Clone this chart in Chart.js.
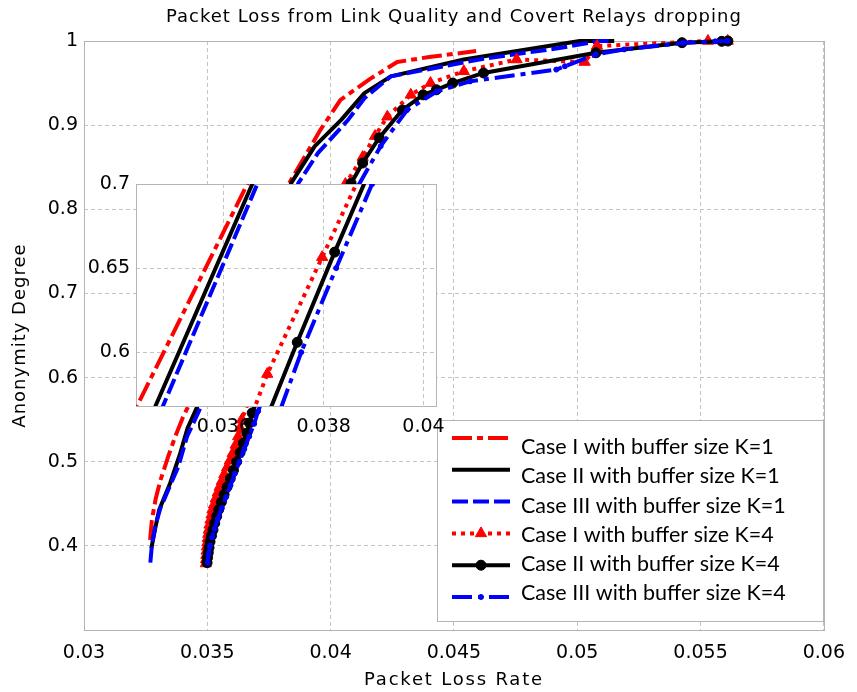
<!DOCTYPE html>
<html>
<head>
<meta charset="utf-8">
<title>Packet Loss</title>
<script src="https://cdn.jsdelivr.net/npm/chart.js@4.4.0/dist/chart.umd.min.js"></script>
<style>
  body { margin: 0; background: #fff; }
  #wrap { position: relative; width: 857px; height: 692px; }
  #inset { position: absolute; left: 80px; top: 165px; }
</style>
</head>
<body>
<div id="wrap">
  <canvas id="main" width="857" height="692"></canvas>
  <canvas id="inset" width="380" height="280"></canvas>
</div>
<script>
const titleText = 'Packet Loss from Link Quality and Covert Relays dropping';
const xTitle = 'Packet Loss Rate';
const yTitle = 'Anonymity Degree';

const xTicks = [0.03, 0.035, 0.04, 0.045, 0.05, 0.055, 0.06];
const xTickLabels = ['0.03', '0.035', '0.04', '0.045', '0.05', '0.055', '0.06'];
const yTicks = [0.3, 0.4, 0.5, 0.6, 0.7, 0.8, 0.9, 1.0];
const yTickLabels = ['', '0.4', '0.5', '0.6', '0.7', '0.8', '0.9', '1'];

const insetXTicks = [0.036, 0.038, 0.04];
const insetXTickLabels = ['0.036', '0.038', '0.04'];
const insetYTicks = [0.6, 0.65, 0.7];
const insetYTickLabels = ['0.6', '0.65', '0.7'];

const seriesLabels = [
  'Case I with buffer size K=1',
  'Case II with buffer size K=1',
  'Case III with buffer size K=1',
  'Case I with buffer size K=4',
  'Case II with buffer size K=4',
  'Case III with buffer size K=4'
];

// K=1
const case1K1X = [0.03268, 0.03275, 0.0329, 0.0331, 0.0334, 0.0337, 0.0340, 0.03426, 0.03647, 0.0374, 0.0383, 0.0396, 0.0404, 0.0416, 0.0427, 0.0440, 0.0459];
const case1K1Y = [0.407, 0.43, 0.455, 0.478, 0.505, 0.53, 0.552, 0.568, 0.70, 0.765, 0.83, 0.895, 0.93, 0.955, 0.975, 0.981, 0.988];

const case2K1X = [0.03273, 0.0329, 0.03305, 0.0335, 0.0339, 0.0342, 0.03463, 0.03657, 0.0375, 0.0384, 0.03936, 0.04042, 0.04137, 0.04244, 0.0454, 0.04915, 0.0501, 0.0515];
const case2K1Y = [0.397, 0.4225, 0.443, 0.475, 0.51, 0.54, 0.568, 0.70, 0.765, 0.831, 0.875, 0.906, 0.938, 0.958, 0.978, 0.9956, 1.0, 1.0];

const case3K1X = [0.03269, 0.03275, 0.0329, 0.0331, 0.03382, 0.03418, 0.03458, 0.03478, 0.03667, 0.0377, 0.03869, 0.03949, 0.0407, 0.04137, 0.04244, 0.0462, 0.04915, 0.0509, 0.05143];
const case3K1Y = [0.38, 0.40, 0.425, 0.445, 0.494, 0.53, 0.555, 0.568, 0.70, 0.765, 0.831, 0.867, 0.906, 0.932, 0.958, 0.979, 0.991, 1.0, 1.0];

// K=4 (markers crowd together near the bottom)
const case1K4X = [0.03494, 0.03495, 0.03496, 0.03497, 0.03498, 0.035, 0.03502, 0.03504, 0.03506, 0.03509, 0.03513, 0.03517, 0.03521, 0.03527, 0.03534, 0.03542,
  0.0355, 0.03559, 0.03569, 0.0358, 0.03591, 0.03603, 0.03615, 0.03625, 0.03633, 0.0364, 0.03687, 0.03797, 0.0390, 0.0398, 0.0406, 0.0413, 0.0418, 0.0423,
  0.04325, 0.04405, 0.0454, 0.04754, 0.0503, 0.0508, 0.0553, 0.0561];
const case1K4Y = [0.379, 0.384, 0.389, 0.394, 0.399, 0.404, 0.409, 0.414, 0.419, 0.425, 0.431, 0.437, 0.443, 0.449, 0.456, 0.463,
  0.47, 0.477, 0.485, 0.493, 0.501, 0.51, 0.52, 0.53, 0.54, 0.55, 0.587, 0.6565, 0.722, 0.778, 0.83, 0.862, 0.887, 0.91,
  0.936, 0.95, 0.964, 0.978, 0.975, 0.994, 1.0, 1.0];

const case2K4X = [0.03499, 0.03501, 0.03504, 0.03507, 0.03511, 0.03517, 0.03523, 0.0353, 0.03538, 0.03546, 0.03557, 0.03568, 0.0358, 0.03593, 0.03606,
  0.03619, 0.03633, 0.03646, 0.0366, 0.03671, 0.03682, 0.03747, 0.03822, 0.0391, 0.0400, 0.04083, 0.0413, 0.04197, 0.04291, 0.04375, 0.04429, 0.04495,
  0.0462, 0.05076, 0.05425, 0.05586, 0.05611];
const case2K4Y = [0.38, 0.386, 0.392, 0.398, 0.405, 0.412, 0.419, 0.427, 0.435, 0.443, 0.452, 0.461, 0.47, 0.48, 0.49,
  0.5, 0.511, 0.522, 0.534, 0.546, 0.558, 0.6059, 0.6595, 0.72, 0.78, 0.831, 0.855, 0.885, 0.918, 0.936, 0.942, 0.95,
  0.962, 0.986, 0.998, 0.9996, 1.0];

const case3K4X = [0.03502, 0.03505, 0.03511, 0.03519, 0.03529, 0.03543, 0.03559, 0.03576, 0.03594, 0.03612, 0.0363, 0.0365, 0.0367, 0.0369, 0.03706,
  0.03755, 0.03825, 0.03897, 0.0400, 0.0411, 0.04203, 0.0431, 0.0443, 0.04565, 0.04915, 0.0495, 0.05076, 0.0519, 0.0543, 0.0556, 0.0561];
const case3K4Y = [0.38, 0.39, 0.40, 0.41, 0.42, 0.432, 0.445, 0.458, 0.472, 0.486, 0.50, 0.515, 0.53, 0.545, 0.56,
  0.60, 0.65, 0.70, 0.76, 0.827, 0.875, 0.918, 0.94, 0.952, 0.966, 0.970, 0.984, 0.99, 0.9976, 0.9996, 1.0];

// inset window
const insetXMin = 0.03424, insetXMax = 0.04025;
const insetYMin = 0.568, insetYMax = 0.7;

const tickFont = { family: 'DejaVu Sans', size: 19 };
const gridColor = '#c4c4c4';
const frameColor = '#b4b4b4';

function pts(xs, ys) {
  return xs.map((x, i) => ({ x: x, y: ys[i] }));
}

function makeDatasets(clip) {
  const base = { showLine: true, tension: 0, fill: false, clip: clip, borderCapStyle: 'butt', borderJoinStyle: 'round' };
  return [
    Object.assign({}, base, { label: seriesLabels[0], data: pts(case1K1X, case1K1Y), borderColor: '#ff0000', borderWidth: 4, borderDash: [20, 5, 6, 5], pointRadius: 0, order: 6 }),
    Object.assign({}, base, { label: seriesLabels[1], data: pts(case2K1X, case2K1Y), borderColor: '#000000', borderWidth: 4, borderDash: [], pointRadius: 0, order: 5 }),
    Object.assign({}, base, { label: seriesLabels[2], data: pts(case3K1X, case3K1Y), borderColor: '#0000ff', borderWidth: 4, borderDash: [16, 5], pointRadius: 0, order: 4 }),
    Object.assign({}, base, { label: seriesLabels[3], data: pts(case1K4X, case1K4Y), borderColor: '#ff0000', borderWidth: 4, borderDash: [4, 5],
      pointStyle: 'triangle', pointRadius: 6.5, pointBackgroundColor: '#ff0000', pointBorderColor: '#ff0000', pointBorderWidth: 1, order: 3 }),
    Object.assign({}, base, { label: seriesLabels[4], data: pts(case2K4X, case2K4Y), borderColor: '#000000', borderWidth: 4, borderDash: [],
      pointStyle: 'circle', pointRadius: 5, pointBackgroundColor: '#000000', pointBorderColor: '#000000', pointBorderWidth: 1, order: 2 }),
    Object.assign({}, base, { label: seriesLabels[5], data: pts(case3K4X, case3K4Y), borderColor: '#0000ff', borderWidth: 4, borderDash: [20, 6, 5, 6],
      pointStyle: 'circle', pointRadius: 2.5, pointBackgroundColor: '#0000ff', pointBorderColor: '#0000ff', pointBorderWidth: 1, order: 1 })
  ];
}

function axis(min, max, values, labels, fit, padding) {
  return {
    type: 'linear', min: min, max: max,
    afterBuildTicks: s => { s.ticks = values.map(v => ({ value: v })); },
    afterFit: fit,
    ticks: { callback: (v, i) => labels[i], autoSkip: false, maxRotation: 0, padding: padding, color: '#000', font: tickFont },
    grid: { color: gridColor, drawTicks: false, lineWidth: 1 },
    border: { display: false, dash: [4, 3] }
  };
}

function drawMarker(ctx, style, r, x, y) {
  ctx.beginPath();
  if (style === 'triangle') {
    let a = 0;
    for (let k = 0; k < 3; k++) {
      const px = x + Math.sin(a) * r, py = y - Math.cos(a) * r;
      if (k === 0) ctx.moveTo(px, py); else ctx.lineTo(px, py);
      a += Math.PI * 2 / 3;
    }
    ctx.closePath();
  } else {
    ctx.arc(x, y, r, 0, Math.PI * 2);
  }
  ctx.fill();
  ctx.stroke();
}

const framePlugin = {
  id: 'frame',
  beforeDraw(chart) {
    const { ctx, chartArea: a } = chart;
    ctx.save();
    ctx.fillStyle = '#fff';
    ctx.fillRect(a.left, a.top, a.right - a.left, a.bottom - a.top);
    ctx.restore();
  },
  beforeDatasetsDraw(chart) {
    const { ctx, chartArea: a } = chart;
    ctx.save();
    ctx.strokeStyle = frameColor;
    ctx.lineWidth = 1;
    ctx.strokeRect(Math.round(a.left) + 0.5, Math.round(a.top) + 0.5, Math.round(a.right - a.left), Math.round(a.bottom - a.top));
    ctx.restore();
  }
};

const textPlugin = {
  id: 'texts',
  afterDraw(chart) {
    const { ctx, chartArea: a } = chart;
    const cx = (a.left + a.right) / 2;
    ctx.save();
    ctx.fillStyle = '#000';
    ctx.font = '18px "DejaVu Sans"';
    ctx.textAlign = 'center';
    ctx.textBaseline = 'alphabetic';
    ctx.letterSpacing = '1px';
    ctx.fillText(titleText, cx, 22);
    ctx.letterSpacing = '1.8px';
    ctx.fillText(xTitle, cx, 685);
    ctx.letterSpacing = '1px';
    ctx.translate(25, (a.top + a.bottom) / 2);
    ctx.rotate(-Math.PI / 2);
    ctx.fillText(yTitle, 0, 0);
    ctx.restore();

    // legend box
    ctx.save();
    ctx.fillStyle = '#fff';
    ctx.fillRect(437, 420, 386, 201);
    ctx.strokeStyle = frameColor;
    ctx.lineWidth = 1;
    ctx.strokeRect(437.5, 420.5, 386, 201);
    chart.data.datasets.forEach((ds, i) => {
      const ly = 438 + i * 31.8;
      ctx.strokeStyle = ds.borderColor;
      ctx.lineWidth = ds.borderWidth;
      ctx.setLineDash(ds.borderDash);
      ctx.beginPath();
      ctx.moveTo(452, ly);
      ctx.lineTo(510, ly);
      ctx.stroke();
      ctx.setLineDash([]);
      if (ds.pointRadius > 0) {
        ctx.fillStyle = ds.pointBackgroundColor;
        ctx.strokeStyle = ds.pointBorderColor;
        ctx.lineWidth = ds.pointBorderWidth;
        drawMarker(ctx, ds.pointStyle, ds.pointRadius, 481, ly);
      }
      ctx.fillStyle = '#000';
      ctx.font = '21.5px Lato';
      ctx.textAlign = 'left';
      ctx.textBaseline = 'middle';
      ctx.fillText(ds.label, 521, 447 + i * 29.3);
    });
    ctx.restore();
  }
};

new Chart(document.getElementById('main'), {
  type: 'scatter',
  data: { datasets: makeDatasets(false) },
  options: {
    responsive: false,
    animation: false,
    layout: { padding: { top: 41, right: 26, left: 0, bottom: 0 } },
    scales: {
      x: axis(0.03, 0.06, xTicks, xTickLabels, s => { s.height = 62; }, 12),
      y: axis(0.3, 1.0, yTicks, yTickLabels, s => { s.width = 84; }, 6)
    },
    plugins: { legend: { display: false }, tooltip: { enabled: false }, title: { display: false } }
  },
  plugins: [framePlugin, textPlugin]
});

new Chart(document.getElementById('inset'), {
  type: 'scatter',
  data: { datasets: makeDatasets(0) },
  options: {
    responsive: false,
    animation: false,
    layout: { padding: { top: 19, right: 24, left: 0, bottom: 0 } },
    scales: {
      x: axis(insetXMin, insetXMax, insetXTicks, insetXTickLabels, s => { s.height = 39; }, 10),
      y: axis(insetYMin, insetYMax, insetYTicks, insetYTickLabels, s => { s.width = 56; }, 6)
    },
    plugins: { legend: { display: false }, tooltip: { enabled: false }, title: { display: false } }
  },
  plugins: [framePlugin]
});
</script>
</body>
</html>
